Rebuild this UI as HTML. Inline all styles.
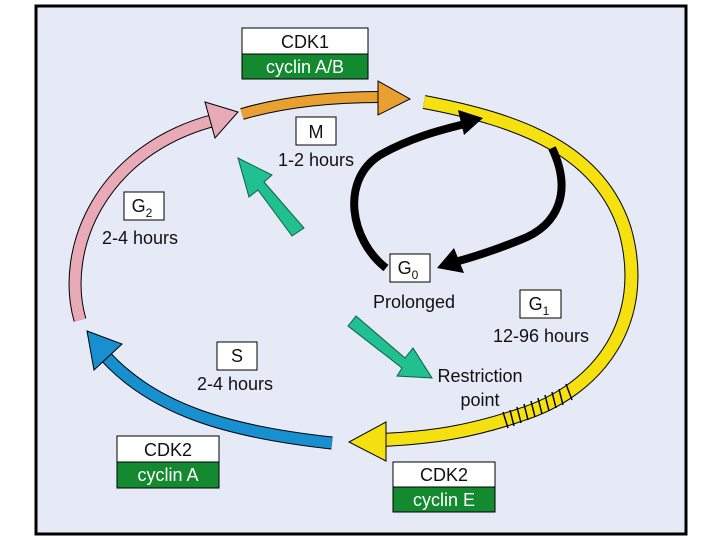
<!DOCTYPE html>
<html><head><meta charset="utf-8"><style>
html,body{margin:0;padding:0;background:#fff;width:720px;height:540px;overflow:hidden}
svg{display:block}
text{font-family:"Liberation Sans",sans-serif;font-size:18px;fill:#111}
</style></head><body>
<svg width="720" height="540" viewBox="0 0 720 540">
<rect x="36" y="6" width="650" height="528" fill="#e6e9f6" stroke="#000" stroke-width="3"/>
<!-- pink G2 -->
<path d="M80,320 C60,250 100,150 215,120" fill="none" stroke="#000" stroke-width="13"/>
<path d="M80,320 C60,250 100,150 215,120" fill="none" stroke="#e8aab6" stroke-width="11"/>
<polygon points="205,102 238,112 215,138" fill="#e8aab6" stroke="#000" stroke-width="1"/>
<!-- orange M -->
<path d="M242,114 C290,100 340,97 380,97" fill="none" stroke="#000" stroke-width="12"/>
<path d="M242,114 C290,100 340,97 380,97" fill="none" stroke="#e8a030" stroke-width="10"/>
<polygon points="378,81 410,99 378,115" fill="#e8a030" stroke="#000" stroke-width="1"/>
<!-- yellow G1 -->
<path d="M424,102 C520,120 600,150 625,230 C650,320 600,390 520,415 C470,432 430,438 380,440" fill="none" stroke="#000" stroke-width="14"/>
<path d="M424,102 C520,120 600,150 625,230 C650,320 600,390 520,415 C470,432 430,438 380,440" fill="none" stroke="#f5e010" stroke-width="12"/>
<polygon points="386,422 349,442 386,461" fill="#f5e010" stroke="#000" stroke-width="1"/>
<g stroke="#000" stroke-width="1.5">
<line x1="503" y1="412" x2="508" y2="428"/><line x1="510" y1="410" x2="514" y2="426"/><line x1="517" y1="407" x2="521" y2="423"/><line x1="524" y1="404" x2="528" y2="420"/><line x1="531" y1="401" x2="535" y2="417"/><line x1="538" y1="398" x2="542" y2="414"/><line x1="545" y1="395" x2="549" y2="411"/><line x1="552" y1="392" x2="556" y2="408"/><line x1="559" y1="389" x2="563" y2="405"/><line x1="566" y1="384" x2="572" y2="400"/>
</g>
<!-- blue S -->
<path d="M332,443 C230,432 150,410 100,350" fill="none" stroke="#000" stroke-width="13"/>
<path d="M332,443 C230,432 150,410 100,350" fill="none" stroke="#1890d0" stroke-width="11"/>
<polygon points="87,331 122,344 94,370" fill="#1890d0" stroke="#000" stroke-width="1"/>
<!-- black G0 loop -->
<path d="M386,268 C350,240 340,180 380,155 C410,138 440,130 465,124" fill="none" stroke="#000" stroke-width="8"/>
<polygon points="458,110 483,118 464,135" fill="#000"/>
<path d="M552,148 C572,190 560,225 520,240 C490,252 470,258 455,262" fill="none" stroke="#000" stroke-width="8"/>
<polygon points="454,248 437,268 464,273" fill="#000"/>
<!-- teal arrows -->
<polygon points="304,228 292,236 258,190 249,197 238,158 272,175 264,182" fill="#20c090" stroke="#106048" stroke-width="1"/>
<polygon points="348,326 356,316 405,358 413,348 432,378 397,376 402,368" fill="#20c090" stroke="#106048" stroke-width="1"/>
<!-- CDK1 -->
<rect x="242" y="28" width="126" height="26" fill="#fff" stroke="#000" stroke-width="1"/>
<rect x="242" y="54" width="126" height="25" fill="#138a30" stroke="#000" stroke-width="1"/>
<text x="305" y="48" text-anchor="middle">CDK1</text>
<text x="305" y="73" text-anchor="middle" style="fill:#fff">cyclin A/B</text>
<!-- M -->
<rect x="296" y="117" width="40" height="28" fill="#fff" stroke="#000"/>
<text x="316" y="138" text-anchor="middle">M</text>
<text x="316" y="166" text-anchor="middle">1-2 hours</text>
<!-- G2 -->
<rect x="124" y="192" width="40" height="28" fill="#fff" stroke="#000"/>
<text x="142" y="212" text-anchor="middle">G<tspan font-size="12" dy="5">2</tspan></text>
<text x="140" y="244" text-anchor="middle">2-4 hours</text>
<!-- G0 -->
<rect x="390" y="254" width="40" height="28" fill="#fff" stroke="#000"/>
<text x="408" y="274" text-anchor="middle">G<tspan font-size="12" dy="5">0</tspan></text>
<text x="414" y="308" text-anchor="middle">Prolonged</text>
<!-- G1 -->
<rect x="520" y="290" width="41" height="28" fill="#fff" stroke="#000"/>
<text x="539" y="310" text-anchor="middle">G<tspan font-size="12" dy="5">1</tspan></text>
<text x="541" y="342" text-anchor="middle">12-96 hours</text>
<!-- S -->
<rect x="217" y="342" width="40" height="28" fill="#fff" stroke="#000"/>
<text x="237" y="362" text-anchor="middle">S</text>
<text x="235" y="390" text-anchor="middle">2-4 hours</text>
<text x="480" y="382" text-anchor="middle">Restriction</text>
<text x="480" y="406" text-anchor="middle">point</text>
<!-- CDK2 left -->
<rect x="117" y="436" width="102" height="26" fill="#fff" stroke="#000"/>
<rect x="117" y="462" width="102" height="26" fill="#138a30" stroke="#000"/>
<text x="168" y="456" text-anchor="middle">CDK2</text>
<text x="168" y="481" text-anchor="middle" style="fill:#fff">cyclin A</text>
<!-- CDK2 right -->
<rect x="393" y="462" width="102" height="25" fill="#fff" stroke="#000"/>
<rect x="393" y="487" width="102" height="25" fill="#138a30" stroke="#000"/>
<text x="444" y="481" text-anchor="middle">CDK2</text>
<text x="444" y="506" text-anchor="middle" style="fill:#fff">cyclin E</text>
</svg>
</body></html>
